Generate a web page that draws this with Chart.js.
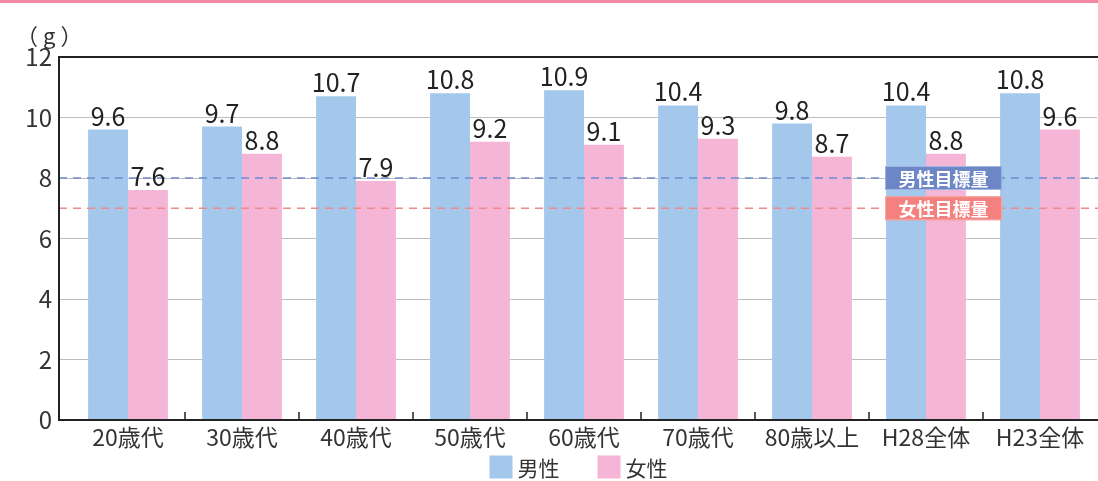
<!DOCTYPE html>
<html lang="ja">
<head>
<meta charset="utf-8">
<script src="https://cdn.jsdelivr.net/npm/chart.js@4.4.0/dist/chart.umd.min.js"></script>
<style>
  html, body { margin: 0; padding: 0; background: #fff; }
  #wrap { width: 1098px; height: 481px; position: relative; }
</style>
</head>
<body>
<div id="wrap"><canvas id="chartSodium"></canvas></div>
<script>
// 食塩摂取量（年代別・性別）
const categories = ['20歳代', '30歳代', '40歳代', '50歳代', '60歳代', '70歳代', '80歳以上', 'H28全体', 'H23全体'];
const seriesLabels = ['男性', '女性'];
const maleValues = [9.6, 9.7, 10.7, 10.8, 10.9, 10.4, 9.8, 10.4, 10.8];
const femaleValues = [7.6, 8.8, 7.9, 9.2, 9.1, 9.3, 8.7, 8.8, 9.6];
const yTicks = [0, 2, 4, 6, 8, 10, 12];
const targetLabels = ['男性目標量', '女性目標量'];
const targetValues = [8, 7];
const unitLabel = '（g）';

const FONT = '"Noto Sans CJK JP", "Noto Sans", sans-serif';
const COLORS = {
  male: '#a3c8ec',
  female: '#f5b5d6',
  maleTarget: '#6e8ccd',
  femaleTarget: '#f08a8a',
  maleBox: '#6d87c6',
  femaleBox: '#f2817f',
  frame: '#222',
  grid: '#bdbdbd',
  text: '#333'
};

// 枠線・目標量・数値ラベル・凡例
const decorPlugin = {
  id: 'decor',
  beforeDraw(chart) {
    const ctx = chart.ctx;
    ctx.save();
    ctx.fillStyle = '#f2879f';
    ctx.fillRect(0, 0, chart.width, 3);
    ctx.fillStyle = COLORS.text;
    ctx.font = '22px ' + FONT;
    ctx.letterSpacing = '5px';
    ctx.textAlign = 'left';
    ctx.textBaseline = 'middle';
    ctx.fillText(unitLabel, 16, 36);
    ctx.letterSpacing = '0px';
    ctx.restore();
  },
  afterDatasetsDraw(chart) {
    const ctx = chart.ctx;
    const area = chart.chartArea;
    const y = chart.scales.y;
    const x = chart.scales.x;
    const frameLeft = area.left - 12;
    ctx.save();

    // 目標量の破線
    const lineColors = [COLORS.maleTarget, COLORS.femaleTarget];
    targetValues.forEach((v, i) => {
      const py = y.getPixelForValue(v);
      ctx.strokeStyle = lineColors[i];
      ctx.lineWidth = 1.6;
      ctx.setLineDash([8, 6]);
      ctx.beginPath();
      ctx.moveTo(frameLeft, py);
      ctx.lineTo(chart.width, py);
      ctx.stroke();
    });
    ctx.setLineDash([]);

    // 枠
    ctx.strokeStyle = COLORS.frame;
    ctx.lineWidth = 2;
    ctx.beginPath();
    ctx.moveTo(chart.width, area.top);
    ctx.lineTo(frameLeft, area.top);
    ctx.lineTo(frameLeft, area.bottom);
    ctx.lineTo(chart.width, area.bottom);
    ctx.stroke();

    // カテゴリ区切りの目盛
    ctx.lineWidth = 1.5;
    for (let i = 0; i < categories.length - 1; i++) {
      const px = (x.getPixelForValue(i) + x.getPixelForValue(i + 1)) / 2;
      ctx.beginPath();
      ctx.moveTo(px, area.bottom);
      ctx.lineTo(px, area.bottom - 8);
      ctx.stroke();
    }

    // 数値ラベル
    ctx.fillStyle = '#222';
    ctx.font = '25px ' + FONT;
    ctx.textAlign = 'center';
    ctx.textBaseline = 'alphabetic';
    chart.data.datasets.forEach((ds, di) => {
      chart.getDatasetMeta(di).data.forEach((bar, j) => {
        ctx.fillText(ds.data[j].toFixed(1), bar.x, bar.y - 4);
      });
    });

    // 目標量ラベル
    const ref = chart.getDatasetMeta(0).data[7];
    const boxLeft = ref.x - ref.width / 2 - 1;
    const boxW = 117, boxH = 24;
    const boxFill = [COLORS.maleBox, COLORS.femaleBox];
    const boxEdge = ['#a3b5e0', '#f8aaa8'];
    ctx.font = 'bold 18px ' + FONT;
    ctx.textBaseline = 'middle';
    targetValues.forEach((v, i) => {
      const py = y.getPixelForValue(v);
      ctx.fillStyle = boxFill[i];
      ctx.fillRect(boxLeft, py - boxH / 2, boxW, boxH);
      ctx.strokeStyle = boxEdge[i];
      ctx.lineWidth = 1;
      ctx.strokeRect(boxLeft + 0.5, py - boxH / 2 + 0.5, boxW - 1, boxH - 1);
      ctx.fillStyle = '#fff';
      ctx.fillText(targetLabels[i], boxLeft + boxW / 2, py + 1);
    });

    // 凡例
    ctx.font = '21px ' + FONT;
    ctx.textAlign = 'left';
    const legendY = 467;
    const box = 23, gapText = 5, gapItem = 38;
    const widths = seriesLabels.map(t => box + gapText + ctx.measureText(t).width);
    const total = widths.reduce((a, b) => a + b, 0) + gapItem * (widths.length - 1);
    let lx = (frameLeft + chart.width) / 2 - total / 2;
    chart.data.datasets.forEach((ds, di) => {
      ctx.fillStyle = ds.backgroundColor;
      ctx.fillRect(lx, legendY - box / 2, box, box);
      ctx.fillStyle = COLORS.text;
      ctx.fillText(seriesLabels[di], lx + box + gapText, legendY + 1);
      lx += widths[di] + gapItem;
    });
    ctx.restore();
  }
};

const ctx = document.getElementById('chartSodium').getContext('2d');
new Chart(ctx, {
  type: 'bar',
  data: {
    labels: categories,
    datasets: [
      { label: seriesLabels[0], data: maleValues, backgroundColor: COLORS.male },
      { label: seriesLabels[1], data: femaleValues, backgroundColor: COLORS.female }
    ]
  },
  options: {
    responsive: true,
    maintainAspectRatio: false,
    animation: false,
    layout: { padding: { top: 57, right: 1, bottom: 25, left: 0 } },
    datasets: {
      bar: { categoryPercentage: 0.7, barPercentage: 1.0 }
    },
    scales: {
      x: {
        grid: { display: false, drawTicks: false },
        border: { display: false },
        ticks: { color: COLORS.text, font: { family: FONT, size: 23 }, padding: 3, maxRotation: 0 },
        afterFit(scale) { scale.height = 36; }
      },
      y: {
        min: 0,
        max: 12,
        afterBuildTicks(scale) { scale.ticks = yTicks.map(v => ({ value: v })); },
        grid: {
          color: ctx => (ctx.tick && (ctx.tick.value === 0 || ctx.tick.value === 12)) ? 'rgba(0,0,0,0)' : COLORS.grid,
          lineWidth: 1,
          tickLength: 12
        },
        border: { display: false },
        ticks: { color: COLORS.text, font: { family: FONT, size: 24 }, padding: 7 },
        afterFit(scale) { scale.width = 71; }
      }
    },
    plugins: {
      legend: { display: false },
      tooltip: { enabled: false }
    }
  },
  plugins: [decorPlugin]
});
</script>
</body>
</html>
